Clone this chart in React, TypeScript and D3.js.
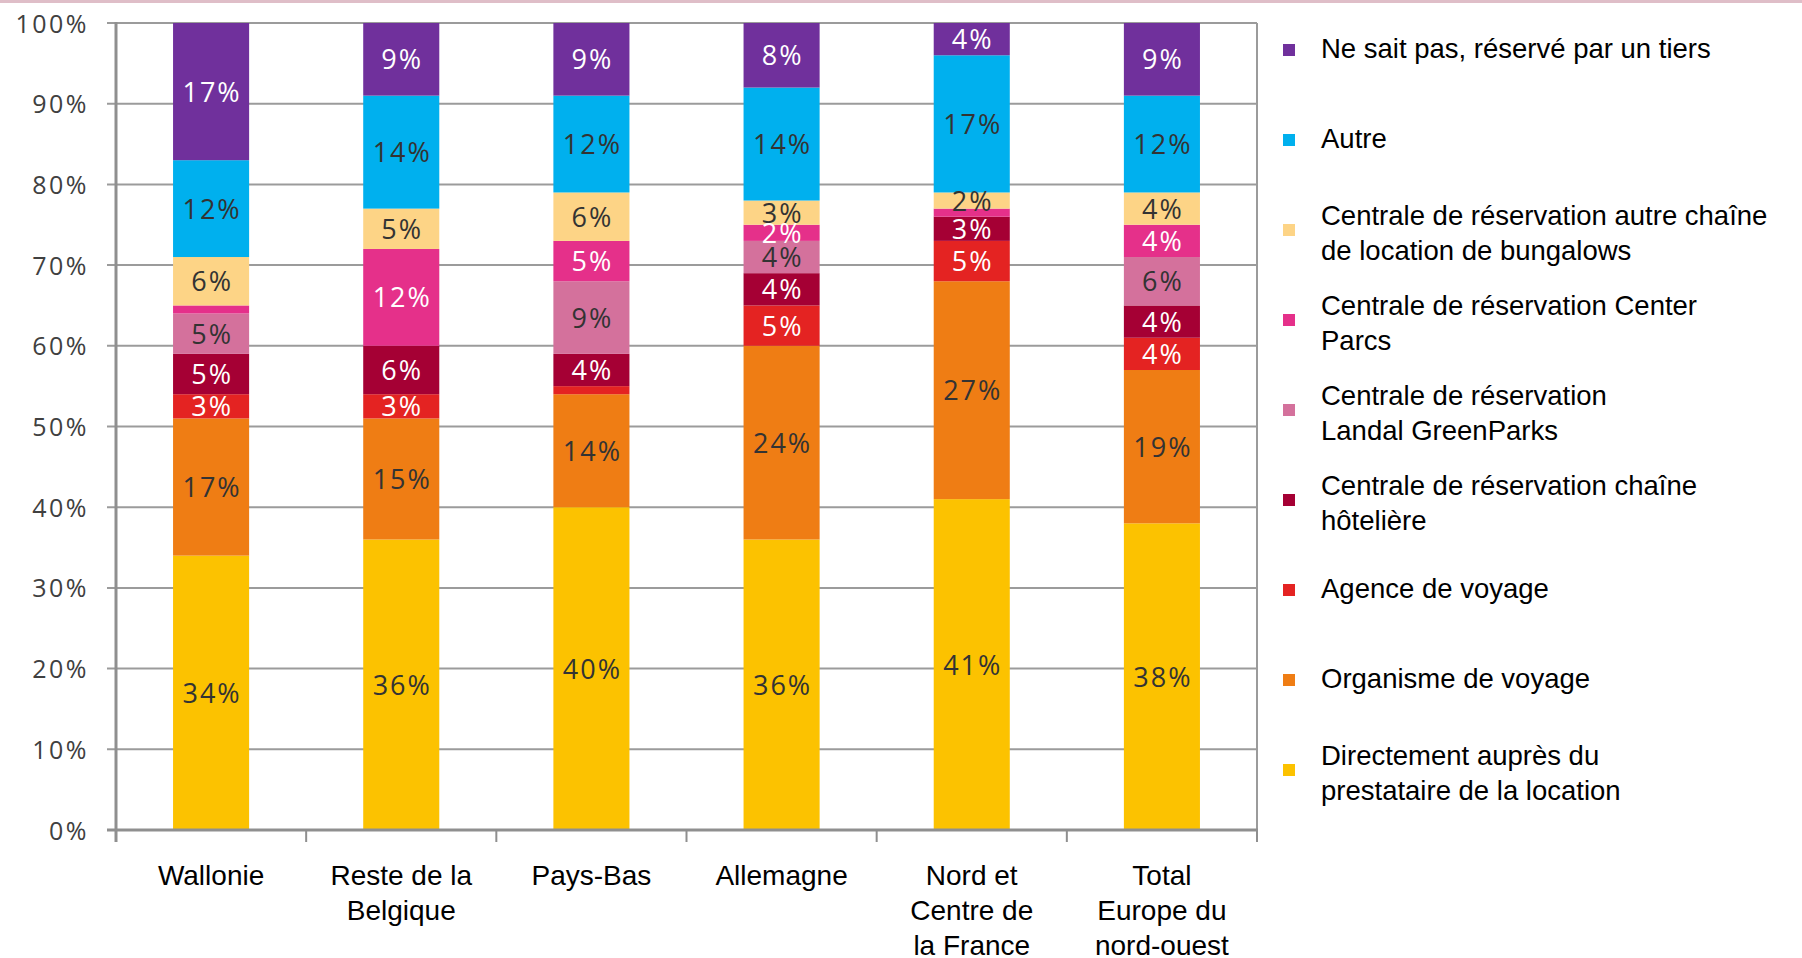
import React from "react";
import * as d3 from "d3";

const categories = ["Wallonie", "Reste de la Belgique", "Pays-Bas", "Allemagne", "Nord et Centre de la France", "Total Europe du nord-ouest"];
const categoryLines = [["Wallonie"], ["Reste de la", "Belgique"], ["Pays-Bas"], ["Allemagne"], ["Nord et", "Centre de", "la France"], ["Total", "Europe du", "nord-ouest"]];

// bottom to top
const seriesNames = [
  "Directement auprès du prestataire de la location",
  "Organisme de voyage",
  "Agence de voyage",
  "Centrale de réservation chaîne hôtelière",
  "Centrale de réservation Landal GreenParks",
  "Centrale de réservation Center Parcs",
  "Centrale de réservation autre chaîne de location de bungalows",
  "Autre",
  "Ne sait pas, réservé par un tiers",
];
const directement = [34, 36, 40, 36, 41, 38];
const organisme = [17, 15, 14, 24, 27, 19];
const agence = [3, 3, 1, 5, 5, 4];
const hotel = [5, 6, 4, 4, 3, 4];
const landal = [5, 0, 9, 4, 0, 6];
const centerParcs = [1, 12, 5, 2, 1, 4];
const autreChaine = [6, 5, 6, 3, 2, 4];
const autre = [12, 14, 12, 14, 17, 12];
const neSaitPas = [17, 9, 9, 8, 4, 9];
const seriesValues = [directement, organisme, agence, hotel, landal, centerParcs, autreChaine, autre, neSaitPas];

const colors = ["#FCC200", "#EF7D14", "#E42322", "#A50034", "#D4719C", "#E5308A", "#FDD486", "#00B0EE", "#70309C"];
const whiteLabel = [false, false, true, true, false, true, false, false, true];

const legendOrder = [8, 7, 6, 5, 4, 3, 2, 1, 0];
const legendLines = [
  ["Ne sait pas, réservé par un tiers"],
  ["Autre"],
  ["Centrale de réservation autre chaîne", "de location de bungalows"],
  ["Centrale de réservation Center", "Parcs"],
  ["Centrale de réservation", "Landal GreenParks"],
  ["Centrale de réservation chaîne", "hôtelière"],
  ["Agence de voyage"],
  ["Organisme de voyage"],
  ["Directement auprès du", "prestataire de la location"],
];
const yTicks = [0, 10, 20, 30, 40, 50, 60, 70, 80, 90, 100];

export default function App() {
  const left = 116, right = 1257, top = 23, bottom = 830;
  const x = d3.scaleBand<string>().domain(categories).range([left, right]).paddingInner(0.6).paddingOuter(0.3);
  const y = d3.scaleLinear().domain([0, 100]).range([bottom, top]);
  const rows = categories.map((c, i) => {
    const r: any = { cat: c };
    seriesValues.forEach((s, k) => (r["s" + k] = s[i]));
    return r;
  });
  const stack = d3.stack<any>().keys(seriesNames.map((_, k) => "s" + k));
  const layers = stack(rows);
  const boundaries = categories.map((_, i) => left + i * ((right - left) / categories.length));
  boundaries.push(right);
  const numFont = "'Open Sans', 'Noto Sans', sans-serif";
  const txtFont = "'Liberation Sans', Arial, sans-serif";

  return (
    <svg width={1802} height={958} style={{ position: "absolute", left: 0, top: 0, background: "#fff" }}>
      <rect x={0} y={0} width={1802} height={3} fill="#DFBEC8" />
      {/* gridlines */}
      {yTicks.map((t) => (
        <line key={t} x1={left - 9} x2={right} y1={y(t)} y2={y(t)} stroke="#9b9b9b" strokeWidth={2} />
      ))}
      <line x1={right} x2={right} y1={top} y2={bottom} stroke="#9b9b9b" strokeWidth={2} />
      {/* bars */}
      {layers.map((layer, k) => (
        <g key={k}>
          {layer.map((d, i) => {
            const v = d[1] - d[0];
            if (v <= 0) return null;
            return (
              <rect key={i} x={x(categories[i])} width={x.bandwidth()} y={y(d[1])} height={y(d[0]) - y(d[1])} fill={colors[k]} />
            );
          })}
        </g>
      ))}
      {/* axes */}
      <line x1={left} x2={left} y1={top - 1} y2={bottom + 12} stroke="#8f8f8f" strokeWidth={3} />
      <line x1={left - 9} x2={right + 1} y1={bottom} y2={bottom} stroke="#8f8f8f" strokeWidth={3} />
      {boundaries.map((b, i) => (
        <line key={i} x1={b} x2={b} y1={bottom} y2={bottom + 12} stroke="#8f8f8f" strokeWidth={2} />
      ))}
      {/* y tick labels */}
      {yTicks.map((t) => (
        <text key={t} x={89} y={y(t) + 9.5} textAnchor="end" fontFamily={numFont} fontSize={25} letterSpacing={2.5} fill="#404040">
          {t}%
        </text>
      ))}
      {/* data labels */}
      {layers.map((layer, k) => (
        <g key={"l" + k}>
          {layer.map((d, i) => {
            const v = d[1] - d[0];
            if (v < 2) return null;
            const cx = (x(categories[i]) as number) + x.bandwidth() / 2;
            const cy = (y(d[0]) + y(d[1])) / 2;
            return (
              <text key={i} x={cx + 1} y={cy + 10} textAnchor="middle" fontFamily={numFont} fontSize={27} letterSpacing={2} fill={whiteLabel[k] ? "#ffffff" : "#333333"}>
                {v}%
              </text>
            );
          })}
        </g>
      ))}
      {/* category labels */}
      {categoryLines.map((lines, i) => (
        <text key={i} textAnchor="middle" fontFamily={txtFont} fontSize={28} fill="#000">
          {lines.map((ln, j) => (
            <tspan key={j} x={(x(categories[i]) as number) + x.bandwidth() / 2} y={885 + j * 35}>
              {ln}
            </tspan>
          ))}
        </text>
      ))}
      {/* legend */}
      {legendOrder.map((k, idx) => {
        const cy = 50 + idx * 90;
        const lines = legendLines[idx];
        const n = lines.length;
        return (
          <g key={k}>
            <rect x={1283} y={cy - 6} width={12} height={12} fill={colors[k]} />
            <text fontFamily={txtFont} fontSize={27.5} fill="#000">
              {lines.map((ln, j) => (
                <tspan key={j} x={1321} y={cy + (n === 1 ? 8 : 12) + (j - (n - 1) / 2) * 35}>
                  {ln}
                </tspan>
              ))}
            </text>
          </g>
        );
      })}
    </svg>
  );
}
